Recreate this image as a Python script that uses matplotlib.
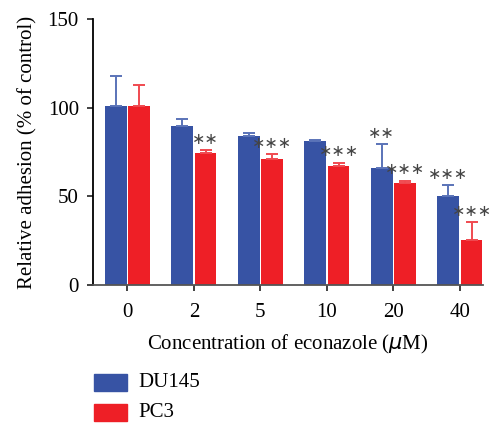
import matplotlib
matplotlib.use("Agg")
import matplotlib.pyplot as plt
import matplotlib.patches as patches
import numpy as np

# adhesion relative to untreated control, mean and upper error
concentrations = ["0", "2", "5", "10", "20", "40"]
du145_mean = [101, 89.7, 84, 81.2, 66, 50.2]
du145_err = [17, 3.7, 1.5, 0.5, 13.3, 6]
pc3_mean = [101, 74.4, 71, 67.1, 57.5, 25.4]
pc3_err = [12, 1.6, 2.7, 1.9, 1.3, 10]
du145_stars = ["", "", "", "", "**", "***"]
pc3_stars = ["", "**", "***", "***", "***", "***"]

blue = "#3753a4"
red = "#ee1f26"
serif = ["Liberation Serif", "DejaVu Serif"]

plt.rcParams["font.family"] = serif

fig = plt.figure(figsize=(4.91, 4.24), dpi=100)
ax = fig.add_axes([0.189, 0.328, 0.795, 0.627])

x = np.arange(len(concentrations))
w = 0.33
off = 0.175

ax.bar(x - off, du145_mean, w, color=blue)
ax.bar(x + off, pc3_mean, w, color=red)

# upper error bars only
ax.errorbar(x - off, du145_mean, yerr=[np.zeros(len(x)), du145_err], fmt="none",
            ecolor="#5a73b8", elinewidth=1.4, capsize=4, capthick=1.4)
ax.errorbar(x + off, pc3_mean, yerr=[np.zeros(len(x)), pc3_err], fmt="none",
            ecolor="#f04a50", elinewidth=1.4, capsize=4, capthick=1.4)

# significance marks above the error bars
for xs, means, errs, stars in [(x - off, du145_mean, du145_err, du145_stars),
                               (x + off, pc3_mean, pc3_err, pc3_stars)]:
    for xi, m, e, s in zip(xs, means, errs, stars):
        if s:
            ax.annotate(s.replace("*", "\u2217"), (xi, m + e), xytext=(0, 8),
                        textcoords="offset points", ha="center", va="center",
                        fontsize=11.5, color="#444444", family=["DejaVu Sans"])

ax.set_xlim(-0.52, 5.35)
ax.set_ylim(0, 150)
ax.set_yticks([0, 50, 100, 150])
ax.set_xticks(x)
ax.set_xticklabels(concentrations)
ax.tick_params(labelsize=15, width=1.3, length=4, color="#333333", pad=6)
ax.tick_params(axis="x", pad=9)
for side in ["top", "right"]:
    ax.spines[side].set_visible(False)
ax.spines["left"].set_linewidth(1.3)
ax.spines["bottom"].set_linewidth(1.3)
ax.spines["bottom"].set_color("#555555")

ax.set_ylabel("Relative adhesion (% of control)", fontsize=15, labelpad=7)
ax.set_xlabel("Concentration of econazole ($\\mu$M)", fontsize=15, labelpad=8)

# legend below the axes
for yy, col, name in [(374, blue, "DU145"), (404, red, "PC3")]:
    fig.patches.append(patches.Rectangle((94 / 491, 1 - (yy + 16.5) / 424), 33 / 491, 16.5 / 424,
                                         transform=fig.transFigure, color=col))
    fig.text(138 / 491, 1 - (yy + 8.5) / 424, name, fontsize=15, va="center")

fig.savefig("out.png", dpi=100)
